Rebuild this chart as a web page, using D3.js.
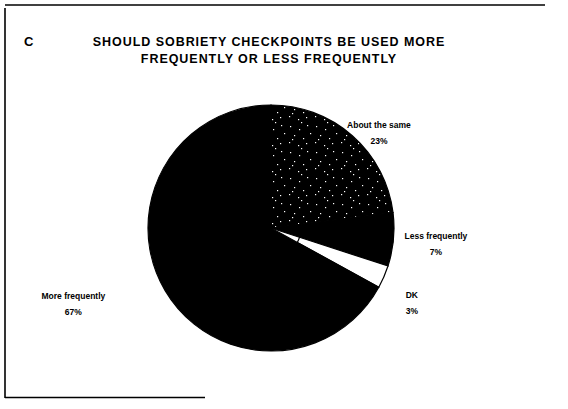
<!DOCTYPE html>
<html><head><meta charset="utf-8">
<script src="https://cdn.jsdelivr.net/npm/d3@7"></script>
<style>
html,body{margin:0;padding:0;background:#fff;}
svg{display:block;}
text{font-family:"Liberation Sans",Arial,Helvetica,sans-serif;font-weight:bold;fill:#000;}
</style></head>
<body><svg id="chart" width="568" height="409"></svg>
<script>
// ---- data ----
const panelLetter = "C";
const titleLines = ["SHOULD SOBRIETY CHECKPOINTS BE USED MORE", "FREQUENTLY OR LESS FREQUENTLY"];
const categories = ["About the same", "Less frequently", "DK", "More frequently"];
const percents = [23, 7, 3, 67];

// ---- layout ----
const cx = 271, cy = 228, R = 123;
const fills = ["url(#dots)", "#000", "#fff", "#000"];
const innerR = [0, 0, 30, 0];
// label placement: angle (deg from 12 o'clock, clockwise), distance from centre
const labelPolar = [[49.5, 142], [96.5, 166], [119.0, 161], [248.1, 213]];

const svg = d3.select("#chart");
const defs = svg.append("defs");
const pat = defs.append("pattern").attr("id", "dots")
  .attr("patternUnits", "userSpaceOnUse").attr("width", 26).attr("height", 26)
  .attr("x", cx + 5).attr("y", 0);
pat.append("rect").attr("width", 26).attr("height", 26).attr("fill", "#000");
[[3,2],[12,5],[20,1],[7,11],[16,14],[23,9],[2,18],[11,21],[19,19],[14,24],[5,15]].forEach(p =>
  pat.append("rect").attr("x", p[0]).attr("y", p[1]).attr("width", 1.2).attr("height", 1.2).attr("fill", "#fff"));

// frame
const frame = svg.append("g").attr("stroke", "#000").attr("fill", "none");
frame.append("line").attr("x1", 5).attr("y1", 8).attr("x2", 5).attr("y2", 398).attr("stroke-width", 1.6);
frame.append("line").attr("x1", 5).attr("y1", 5).attr("x2", 545).attr("y2", 5).attr("stroke-width", 1.3);
frame.append("line").attr("x1", 5).attr("y1", 397.5).attr("x2", 205).attr("y2", 397.5).attr("stroke-width", 1.6);

// title
svg.append("text").attr("x", 24).attr("y", 46).attr("font-size", 13).text(panelLetter);
svg.append("g").selectAll("text").data(titleLines).join("text")
  .attr("x", 269).attr("y", (d, i) => 46 + i * 17)
  .attr("text-anchor", "middle").attr("font-size", 12.5).attr("letter-spacing", 0.95)
  .text(d => d);

// pie
const pie = d3.pie().sort(null).value(d => d.v)(categories.map((c, i) => ({c, v: percents[i], i})));
const g = svg.append("g").attr("transform", `translate(${cx},${cy})`);
g.selectAll("path").data(pie).join("path")
  .attr("d", d => d3.arc().innerRadius(innerR[d.data.i]).outerRadius(R)(d))
  .attr("fill", d => fills[d.data.i])
  .attr("stroke", "#000").attr("stroke-width", 1.2);

// labels
const lab = svg.append("g");
pie.forEach(d => {
  const [a, r] = labelPolar[d.data.i];
  const rad = a * Math.PI / 180;
  const x = cx + r * Math.sin(rad), y = cy - r * Math.cos(rad);
  const t = lab.append("text").attr("text-anchor", "middle").attr("font-size", 8.5);
  t.append("tspan").attr("x", x).attr("y", y - 8).text(d.data.c);
  t.append("tspan").attr("x", x).attr("y", y + 8).text(d.data.v + "%");
});
</script></body></html>
